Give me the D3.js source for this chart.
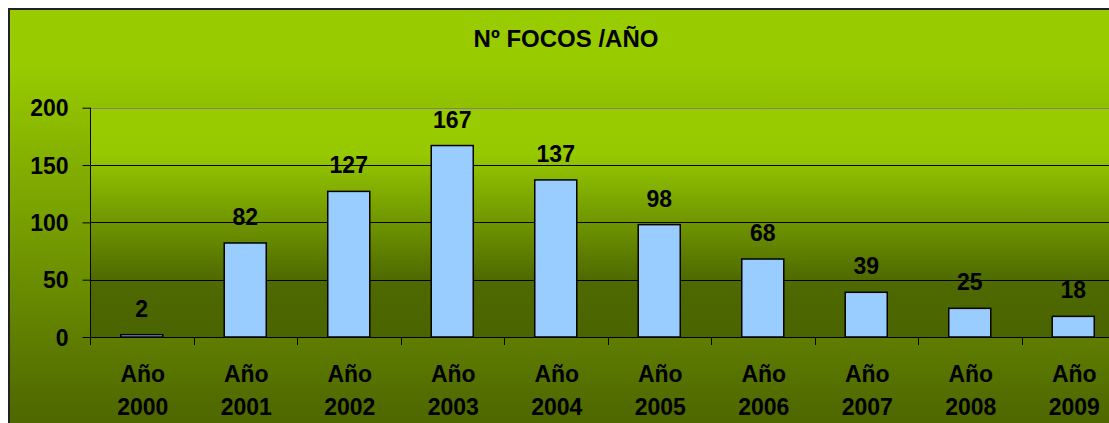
<!DOCTYPE html>
<html>
<head>
<meta charset="utf-8">
<script src="https://cdn.jsdelivr.net/npm/d3@7"></script>
<style>
  html, body { margin: 0; padding: 0; background: #fff; }
  svg { display: block; }
  text { font-family: "Liberation Sans", Arial, sans-serif; font-weight: bold; fill: #000; }
</style>
</head>
<body>
<svg id="chart" width="1109" height="423"></svg>
<script>
const categories = ["2000","2001","2002","2003","2004","2005","2006","2007","2008","2009"];
const values = [2, 82, 127, 167, 137, 98, 68, 39, 25, 18];
const yTicks = [0, 50, 100, 150, 200];
const title = "Nº FOCOS /AÑO";
const catPrefix = "Año";

const W = 1109, H = 423;
const svg = d3.select("#chart");

const defs = svg.append("defs");
const gChart = defs.append("linearGradient").attr("id", "gChart").attr("x1", 0).attr("y1", 0).attr("x2", 0).attr("y2", 1);
gChart.append("stop").attr("offset", "0").attr("stop-color", "#99CC00");
gChart.append("stop").attr("offset", "0.12").attr("stop-color", "#99CC00");
gChart.append("stop").attr("offset", "0.9").attr("stop-color", "#506A00");
gChart.append("stop").attr("offset", "1").attr("stop-color", "#4D6600");

const gPlot = defs.append("linearGradient").attr("id", "gPlot").attr("x1", 0).attr("y1", 0).attr("x2", 0).attr("y2", 1);
gPlot.append("stop").attr("offset", "0").attr("stop-color", "#99CC00");
gPlot.append("stop").attr("offset", "0.2").attr("stop-color", "#97C900");
gPlot.append("stop").attr("offset", "0.75").attr("stop-color", "#4E6A00");
gPlot.append("stop").attr("offset", "1").attr("stop-color", "#4A6400");

// chart area
svg.append("rect").attr("x", 9).attr("y", 9).attr("width", W + 20).attr("height", H + 20)
  .attr("fill", "url(#gChart)").attr("stroke", "#222").attr("stroke-width", 2);

const plot = { left: 90, top: 107.7, bottom: 337 };
const bandW = 103.5;
const x = d3.scaleBand().domain(categories).range([plot.left, plot.left + bandW * categories.length]).padding(0);
const y = d3.scaleLinear().domain([0, 200]).range([plot.bottom, plot.top]);

// plot area
svg.append("rect").attr("x", plot.left).attr("y", plot.top)
  .attr("width", x.range()[1] - plot.left).attr("height", plot.bottom - plot.top)
  .attr("fill", "url(#gPlot)");

// gridlines
svg.append("g").selectAll("line").data(yTicks.filter(t => t > 0)).join("line")
  .attr("x1", plot.left).attr("x2", x.range()[1])
  .attr("y1", d => Math.round(y(d)) + 0.5).attr("y2", d => Math.round(y(d)) + 0.5)
  .attr("stroke", d => d === 200 ? "#808080" : "#000").attr("stroke-width", 1);

// title
svg.append("text").attr("x", 566).attr("y", 47).attr("text-anchor", "middle")
  .style("font-size", "24px").text(title);

// y axis
const yAxis = d3.axisLeft(y).tickValues(yTicks).tickSize(8).tickPadding(14).tickFormat(d3.format("d"));
const gy = svg.append("g").attr("transform", `translate(${plot.left + 0.5},0)`).call(yAxis);
gy.select(".domain").attr("stroke", "#000").attr("d", `M0,${plot.top}V${plot.bottom + 8}`);
gy.selectAll(".tick line").attr("stroke", "#000");
gy.selectAll(".tick text").style("font-size", "23px").attr("dy", "0.36em")
  .style("font-family", '"Liberation Sans", Arial, sans-serif').style("font-weight", "bold");

// x axis baseline and ticks at band boundaries
const gx = svg.append("g");
gx.append("line").attr("x1", plot.left).attr("x2", x.range()[1])
  .attr("y1", plot.bottom + 0.5).attr("y2", plot.bottom + 0.5).attr("stroke", "#000");
gx.selectAll("line.tk").data(categories).join("line").attr("class", "tk")
  .attr("x1", d => Math.round(x(d)) + 0.5).attr("x2", d => Math.round(x(d)) + 0.5)
  .attr("y1", plot.bottom).attr("y2", plot.bottom + 8).attr("stroke", "#000");

// bars
const barW = x.bandwidth() * 0.406;
svg.append("g").selectAll("rect").data(values).join("rect")
  .attr("x", (d, i) => x(categories[i]) + (x.bandwidth() - barW) / 2)
  .attr("y", d => y(d))
  .attr("width", barW)
  .attr("height", d => y(0) - y(d))
  .attr("fill", "#99CCFF").attr("stroke", "#000").attr("stroke-width", 1.5);

// data labels
svg.append("g").selectAll("text").data(values).join("text")
  .attr("x", (d, i) => x(categories[i]) + x.bandwidth() / 2)
  .attr("y", d => y(d) - 18)
  .attr("text-anchor", "middle").style("font-size", "23px").text(d => d);

// category labels
const cl = svg.append("g").selectAll("text").data(categories).join("text")
  .attr("text-anchor", "middle").style("font-size", "23px");
cl.append("tspan").attr("x", d => x(d) + x.bandwidth() / 2 + 1).attr("y", 382).text(catPrefix);
cl.append("tspan").attr("x", d => x(d) + x.bandwidth() / 2 + 1).attr("y", 414.5).text(d => d);
</script>
</body>
</html>
